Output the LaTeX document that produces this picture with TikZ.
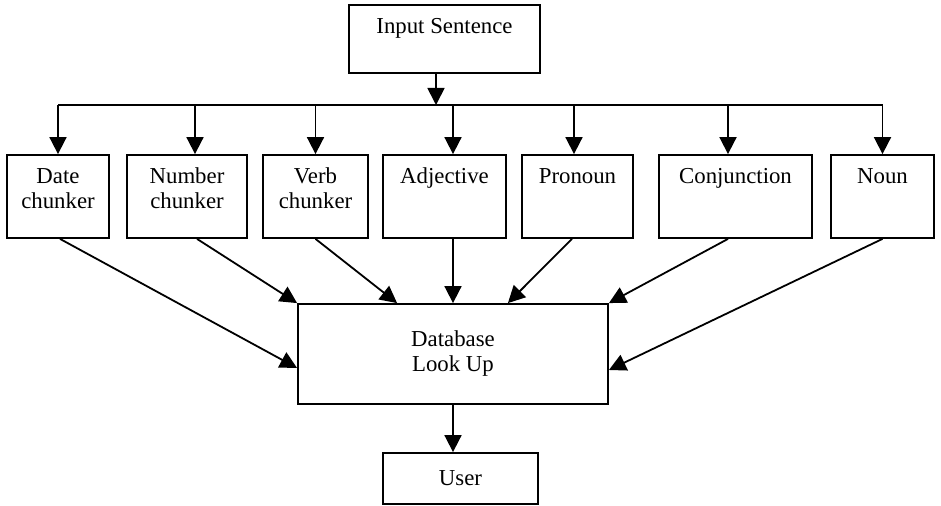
\documentclass[tikz,border=0pt]{standalone}
\usepackage{fontspec}
\setmainfont{Liberation Serif}
\usetikzlibrary{arrows.meta,positioning,calc}

\begin{document}
\begin{tikzpicture}[x=0.5pt, y=-0.5pt,
  every node/.style={font=\fontsize{11.4}{12.5}\selectfont},
  box/.style={draw, line width=0.9pt, minimum height=41.5pt, inner sep=0pt},
  toptext/.style={anchor=north, inner sep=0pt, align=center, yshift=-6pt},
  arr/.style={-{Triangle[length=8.5pt,width=8.5pt]}, line width=0.9pt}]
  \useasboundingbox (0,0) rectangle (941,506);

  % Input and the word class chunkers
  \node[box, minimum width=95.5pt, minimum height=34pt] (in) at (444.5,39) {};
  \node[toptext] (in-t) at (in.north) {\strut Input Sentence};

  \node[box, minimum width=51pt] (date) at (58,196.5) {};
  \node[box, minimum width=60pt] (num) at (187,196.5) {};
  \node[box, minimum width=52.5pt] (verb) at (315.5,196.5) {};
  \node[box, minimum width=61.5pt] (adj) at (444.5,196.5) {};
  \node[box, minimum width=55.5pt] (pron) at (577.5,196.5) {};
  \node[box, minimum width=76.5pt] (conj) at (735.5,196.5) {};
  \node[box, minimum width=51.5pt] (noun) at (882.5,196.5) {};

  \node[toptext] (date-t) at (date.north) {\strut Date\\\strut chunker};
  \node[toptext] (num-t) at (num.north) {\strut Number\\\strut chunker};
  \node[toptext] (verb-t) at (verb.north) {\strut Verb\\\strut chunker};
  \node[toptext] (adj-t) at (adj.north) {\strut Adjective};
  \node[toptext] (pron-t) at (pron.north) {\strut Pronoun};
  \node[toptext] (conj-t) at (conj.north) {\strut Conjunction};
  \node[toptext] (noun-t) at (noun.north) {\strut Noun};

  % Look up and user
  \node[box, minimum width=155pt, minimum height=50pt, align=center] (db) at (453,354) {Database\\Look Up};
  \node[box, minimum width=77.5pt, minimum height=25.5pt] (user) at (460.5,478.5) {User};

  % Arrows from the input to the chunkers
  \coordinate (bus) at (444.5,105);
  \draw[arr] ([xshift=-4.25pt]in.south) -- ([xshift=-4.25pt]in.south |- bus);
  \draw[line width=0.9pt] (date.north |- bus) -- (noun.north |- bus);
  \draw[arr] (date.north |- bus) -- (date.north);
  \draw[arr] ([xshift=4pt]num.north |- bus) -- ([xshift=4pt]num.north);
  \draw[arr] (verb.north |- bus) -- (verb.north);
  \draw[arr] ([xshift=4.25pt]adj.north |- bus) -- ([xshift=4.25pt]adj.north);
  \draw[arr] ([xshift=-1.75pt]pron.north |- bus) -- ([xshift=-1.75pt]pron.north);
  \draw[arr] ([xshift=-3.75pt]conj.north |- bus) -- ([xshift=-3.75pt]conj.north);
  \draw[arr] (noun.north |- bus) -- (noun.north);

  % Arrows from the chunkers to the look up
  \draw[arr] ([xshift=1pt]date.south) -- ([yshift=-7pt]db.west);
  \draw[arr] ([xshift=5pt]num.south) -- (db.north west);
  \draw[arr] (verb.south) -- ([xshift=50pt]db.north west);
  \draw[arr] (adj.south -| db.north) -- (db.north);
  \draw[arr] ([xshift=-2.75pt]pron.south) -- ([xshift=-50.5pt]db.north east);
  \draw[arr] ([xshift=-3.75pt]conj.south) -- (db.north east);
  \draw[arr] (noun.south) -- ([yshift=-8pt]db.east);
  \draw[arr] (db.south) -- (db.south |- user.north);
\end{tikzpicture}
\end{document}
